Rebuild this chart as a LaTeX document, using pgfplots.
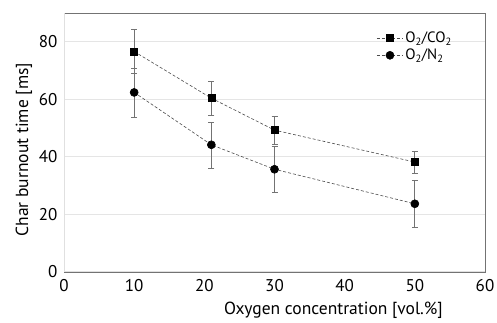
\documentclass[border=0pt]{standalone}
\usepackage{pgfplots}
\pgfplotsset{compat=1.18}
\usepackage{fontspec}
\setmainfont{PT Sans}
\begin{document}
\begin{tikzpicture}
\begin{axis}[
  name=ax,
  scale only axis,
  width=421pt, height=259pt,
  xmin=0, xmax=60, ymin=0, ymax=90,
  xtick={0,10,...,60}, ytick={0,20,...,80},
  major tick length=0pt,
  ymajorgrids,
  grid style={draw=black!10, line width=0.8pt},
  axis line style={draw=black!55, line width=0.8pt},
  tick label style={font=\fontsize{17}{20}\selectfont},
  label style={font=\fontsize{17.5}{20}\selectfont},
  xticklabel style={yshift=-4pt},
  yticklabel style={xshift=-3pt},
  /pgf/number format/assume math mode=true,
  xlabel={Oxygen concentration [vol.\%]},
  ylabel={Char burnout time [ms]},
  xlabel style={at={(ticklabel cs:0.64)}, yshift=-3pt},
  ylabel style={at={(ticklabel cs:0.472)}},
  legend style={draw=none, fill=none, at={(0.742,0.935)}, anchor=north west,
    font=\fontsize{15}{17}\selectfont, row sep=1pt, inner sep=0pt},
  legend cell align=left,
  legend image code/.code={\draw[#1, mark repeat=2, mark phase=2] plot coordinates {(0cm,0cm) (0.46cm,0cm) (0.92cm,0cm)};},
]
\addplot+[black!70, densely dashed, line width=0.6pt, mark=square*,
  mark size=3.5pt, mark options={solid, fill=black, draw=black},
  error bars/.cd, y dir=both, y explicit,
  error bar style={solid, draw=black!55, line width=0.7pt},
  error mark options={rotate=90, mark size=3pt, draw=black!55, solid}]
  coordinates {
  (10,76.6) +- (0,7.6)
  (21,60.4) +- (0,6.0)
  (30,49.3) +- (0,5.0)
  (50,38.2) +- (0,3.9)
  };
\addlegendentry{O\textsubscript{2}/CO\textsubscript{2}}
\addplot+[black!70, densely dashed, line width=0.6pt, mark=*,
  mark size=4pt, mark options={solid, fill=black, draw=black},
  error bars/.cd, y dir=both, y explicit,
  error bar style={solid, draw=black!55, line width=0.7pt},
  error mark options={rotate=90, mark size=3pt, draw=black!55, solid}]
  coordinates {
  (10,62.4) +- (0,8.5)
  (21,44.2) +- (0,8.0)
  (30,35.7) +- (0,8.1)
  (50,23.7) +- (0,8.2)
  };
\addlegendentry{O\textsubscript{2}/N\textsubscript{2}}
\draw[black!12, line width=0.8pt] (rel axis cs:0,0) -- (rel axis cs:0,1);
\draw[black!12, line width=1.6pt] (rel axis cs:0,0) -- (rel axis cs:1,0);
\end{axis}
\pgfresetboundingbox
\path[use as bounding box] ([xshift=-64pt,yshift=-51pt]ax.south west) rectangle ([xshift=12pt,yshift=13pt]ax.north east);
\end{tikzpicture}
\end{document}
